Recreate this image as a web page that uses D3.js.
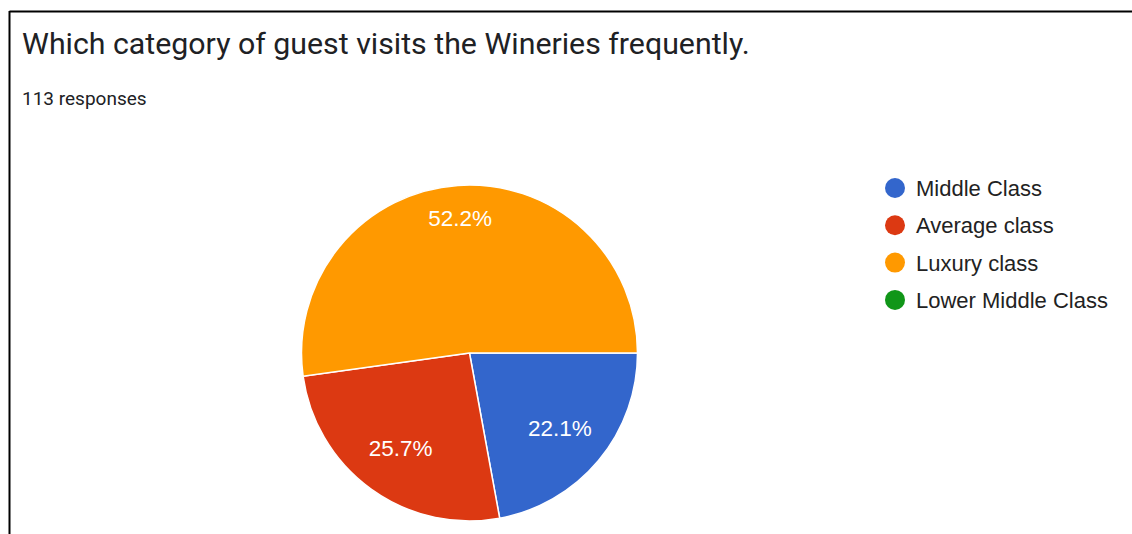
<!DOCTYPE html>
<html>
<head>
<meta charset="utf-8">
<script src="https://cdn.jsdelivr.net/npm/d3@7"></script>
<style>
  html, body { margin: 0; padding: 0; background: #fff; }
  svg { display: block; }
</style>
</head>
<body>
<svg id="chart" width="1132" height="534"></svg>
<script>
// Survey answers: category of guest that visits the wineries most often
const categories = ["Middle Class", "Average class", "Luxury class", "Lower Middle Class"];
const responses = [25, 29, 59, 0];
const percentLabels = ["22.1%", "25.7%", "52.2%", "0%"];
const colors = ["#3366cc", "#dc3912", "#ff9900", "#109618"];
const title = "Which category of guest visits the Wineries frequently.";
const subtitle = "113 responses";

const svg = d3.select("#chart");

// Card frame (top and left edges)
svg.append("line").attr("x1", 9.5).attr("x2", 1132).attr("y1", 11.5).attr("y2", 11.5)
  .attr("stroke", "#000").attr("stroke-width", 2);
svg.append("line").attr("x1", 9.5).attr("x2", 9.5).attr("y1", 11).attr("y2", 534)
  .attr("stroke", "#000").attr("stroke-width", 2);

svg.append("text").attr("x", 22).attr("y", 54)
  .attr("font-family", "Roboto, Arial, sans-serif").attr("font-size", 30.3)
  .attr("fill", "#202124").text(title);

svg.append("text").attr("x", 22).attr("y", 105)
  .attr("font-family", "Roboto, Arial, sans-serif").attr("font-size", 19)
  .attr("fill", "#202124").text(subtitle);

// Pie
const cx = 469.5, cy = 353, r = 168;
const color = d3.scaleOrdinal().domain(categories).range(colors);

const data = categories.map((c, i) => ({ name: c, value: responses[i], label: percentLabels[i] }));
const pie = d3.pie().value(d => d.value).sort(null)
  .startAngle(Math.PI / 2).endAngle(Math.PI / 2 + 2 * Math.PI);
const arcs = pie(data);
const arc = d3.arc().innerRadius(0).outerRadius(r);

const g = svg.append("g").attr("transform", `translate(${cx},${cy})`);
g.selectAll("path.slice").data(arcs.filter(a => a.data.value > 0)).join("path")
  .attr("class", "slice")
  .attr("d", arc)
  .attr("fill", d => color(d.data.name))
  .attr("stroke", "#fff").attr("stroke-width", 1.5);

// Percentage labels, pushed further out for the dominant slice
const labelRadius = d => (d.endAngle - d.startAngle > Math.PI ? 0.8 : 0.7) * r;
g.selectAll("text.pct").data(arcs.filter(a => a.data.value > 0)).join("text")
  .attr("class", "pct")
  .attr("transform", d => {
    const a = (d.startAngle + d.endAngle) / 2;
    const lr = labelRadius(d);
    return `translate(${Math.sin(a) * lr},${-Math.cos(a) * lr})`;
  })
  .attr("text-anchor", "middle").attr("dominant-baseline", "central")
  .attr("font-family", "Arial, 'Liberation Sans', sans-serif").attr("font-size", 22.5)
  .attr("fill", "#fff").text(d => d.data.label);

// Legend
const legend = svg.append("g").attr("transform", "translate(895,188)");
const rowH = 37.3;
const items = legend.selectAll("g").data(categories).join("g")
  .attr("transform", (d, i) => `translate(0,${i * rowH})`);
items.append("circle").attr("r", 10).attr("fill", d => color(d));
items.append("text").attr("x", 21).attr("dy", "0.36em")
  .attr("font-family", "Arial, 'Liberation Sans', sans-serif").attr("font-size", 22)
  .attr("fill", "#222").text(d => d);
</script>
</body>
</html>
